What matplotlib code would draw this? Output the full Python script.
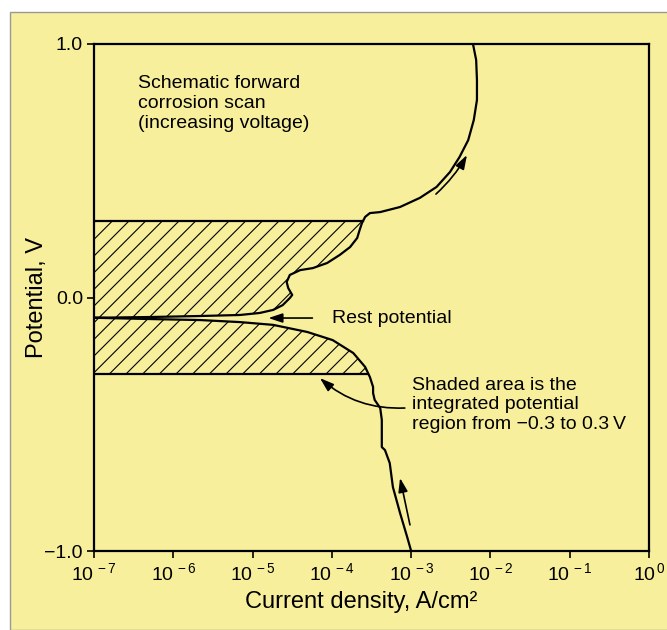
import numpy as np
import matplotlib
matplotlib.use("Agg")
import matplotlib.pyplot as plt
from matplotlib.patches import Rectangle

plt.rcParams['font.family'] = ['Liberation Sans', 'DejaVu Sans']
plt.rcParams['mathtext.fontset'] = 'custom'
plt.rcParams['mathtext.rm'] = 'Liberation Sans'
plt.rcParams['mathtext.it'] = 'Liberation Sans'
plt.rcParams['hatch.linewidth'] = 0.8

# cathodic branch, from -1.0 V up to the rest potential (log10 of A/cm2)
cath_logi = [-3.00, -3.05, -3.14, -3.23, -3.27, -3.33, -3.37, -3.37, -3.39, -3.46,
             -3.48, -3.48, -3.52, -3.58, -3.73, -3.99, -4.31, -4.74, -5.16, -5.66,
             -6.29, -7.00]
cath_v = [-1.00, -0.945, -0.850, -0.748, -0.653, -0.602, -0.590, -0.483, -0.436, -0.404,
          -0.377, -0.353, -0.314, -0.274, -0.219, -0.168, -0.136, -0.108, -0.097, -0.089,
          -0.085, -0.080]

# anodic branch, from the rest potential up to 1.0 V
anod_logi = [-7.00, -6.29, -5.66, -5.16, -4.91, -4.74, -4.62, -4.53, -4.50, -4.55,
             -4.57, -4.53, -4.40, -4.24, -4.06, -3.90, -3.77, -3.68, -3.65, -3.62,
             -3.58, -3.52, -3.39, -3.14, -2.89, -2.68, -2.51, -2.39, -2.28, -2.21,
             -2.17, -2.17, -2.18, -2.22]
anod_v = [-0.080, -0.077, -0.073, -0.069, -0.061, -0.049, -0.030, -0.002, 0.010, 0.037,
          0.061, 0.089, 0.108, 0.116, 0.136, 0.168, 0.199, 0.235, 0.266, 0.294,
          0.318, 0.333, 0.337, 0.357, 0.393, 0.436, 0.495, 0.554, 0.621, 0.700,
          0.779, 0.858, 0.937, 1.000]

xticks = [1e-7, 1e-6, 1e-5, 1e-4, 1e-3, 1e-2, 1e-1, 1e0]
xticklabels = [r'$10^{\,-7}$', r'$10^{\,-6}$', r'$10^{\,-5}$', r'$10^{\,-4}$',
               r'$10^{\,-3}$', r'$10^{\,-2}$', r'$10^{\,-1}$', r'$10^{\,0}$']
yticks = [-1.0, 0.0, 1.0]
yticklabels = ['\u22121.0', '0.0', '1.0']
band = 0.3

bg = '#f7ef9c'
fig = plt.figure(figsize=(6.67, 6.30), dpi=100, facecolor='white')
fig.patches.append(Rectangle((10 / 667, 0), 1, 1 - 12 / 630, transform=fig.transFigure,
                             facecolor=bg, edgecolor='#999999', linewidth=1.0, zorder=-1))
ax = fig.add_axes([94 / 667, 1 - 551 / 630, (649 - 94) / 667, (551 - 44) / 630])
ax.set_facecolor(bg)

ci = 10 ** np.array(cath_logi)
cv = np.array(cath_v)
ai = 10 ** np.array(anod_logi)
av = np.array(anod_v)

# curve
ax.plot(np.concatenate([ci, ai[1:]]), np.concatenate([cv, av[1:]]), color='black', lw=1.6,
        solid_joinstyle='round', zorder=3)

# shaded (hatched) regions
x_top = 10 ** np.interp(band, av, anod_logi)
x_bot = 10 ** np.interp(-band, cv, cath_logi)
m = av < band
up_x = np.concatenate([ai[m], [x_top, 1e-7]])
up_y = np.concatenate([av[m], [band, band]])
ax.fill(up_x, up_y, facecolor='none', edgecolor='black', hatch='//', lw=0, zorder=2)
m = cv > -band
lo_x = np.concatenate([[1e-7, x_bot], ci[m]])
lo_y = np.concatenate([[-band, -band], cv[m]])
ax.fill(lo_x, lo_y, facecolor='none', edgecolor='black', hatch='//', lw=0, zorder=2)
ax.plot([1e-7, x_top], [band, band], color='black', lw=1.6, zorder=3)
ax.plot([1e-7, x_bot], [-band, -band], color='black', lw=1.6, zorder=3)

ax.set_xscale('log')
ax.set_xlim(1e-7, 1e0)
ax.set_ylim(-1.0, 1.0)
ax.set_xticks(xticks)
ax.set_xticklabels(xticklabels, fontsize=14)
ax.minorticks_off()
ax.set_yticks(yticks)
ax.set_yticklabels(yticklabels, fontsize=14)
ax.tick_params(direction='out', length=5, width=1.2, pad=3)
for s in ax.spines.values():
    s.set_linewidth(1.6)

ax.set_xlabel('Current density, A/cm\u00b2', fontsize=17)
ax.xaxis.set_label_coords(0.481, -0.078)
ax.set_ylabel('Potential, V', fontsize=17)
ax.yaxis.set_label_coords(-0.082, 0.5)

ax.text(10 ** -6.445, 0.878, 'Schematic forward\ncorrosion scan\n(increasing voltage)',
        fontsize=14, va='top', ha='left', linespacing=1.22)

arr = dict(arrowstyle='-|>,head_length=0.6,head_width=0.2', color='black', lw=1.2,
           mutation_scale=14)
ax.annotate('Rest potential', xy=(10 ** -4.80, -0.081), xytext=(10 ** -4.00, -0.081),
            fontsize=14, va='center', ha='left',
            arrowprops=dict(arr, shrinkA=12, shrinkB=0))
ax.text(10 ** -2.99, -0.312, 'Shaded area is the\nintegrated potential\nregion from \u22120.3 to 0.3\u2009V',
        fontsize=14, va='top', ha='left', linespacing=1.22)
ax.annotate('', xy=(10 ** -4.15, -0.318), xytext=(10 ** -3.08, -0.436),
            arrowprops=dict(arr, shrinkA=0, shrinkB=0, connectionstyle='arc3,rad=-0.2'))

# direction arrows beside the curve
ax.annotate('', xy=(10 ** -3.14, -0.712), xytext=(10 ** -3.015, -0.897),
            arrowprops=dict(arr, shrinkA=0, shrinkB=0))
ax.annotate('', xy=(10 ** -2.296, 0.562), xytext=(10 ** -2.687, 0.408),
            arrowprops=dict(arr, shrinkA=0, shrinkB=0, connectionstyle='arc3,rad=0.08'))

fig.savefig('out.png', dpi=100, facecolor=fig.get_facecolor())
